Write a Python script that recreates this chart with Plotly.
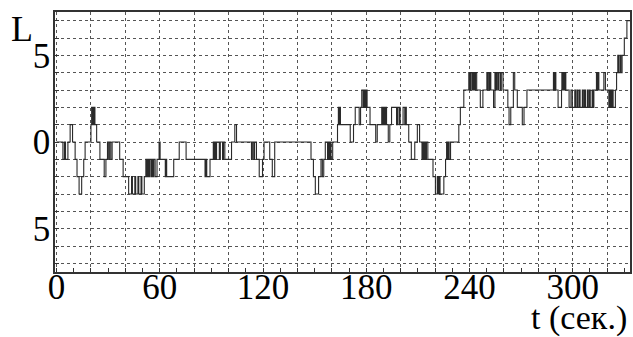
import plotly.graph_objects as go

# change points of the step series: time (s) and level L
change_t = [0, 3.7, 4.6, 5.2, 6.6, 7.9, 9.3, 10.8, 11.9, 13.1, 14.6, 15.8, 16.6,
            20.0, 20.4, 20.8, 21.2, 21.6, 22.0, 22.3, 23.3, 25.2, 27.7, 28.7, 29.6,
            30.3, 30.7, 31.5, 32.3, 36.7, 38.7, 41.9, 43.6, 44.1, 45.5, 46.0, 47.3,
            47.8, 49.1, 49.6, 51.0, 51.9, 52.4, 53.0,
            53.6, 54.2, 55.0, 55.5, 56.0, 56.5, 57.3, 58.4, 59.6, 60.2, 63.2, 63.6,
            64.0, 68.1, 71.3, 75.3, 86.3, 86.8, 87.3, 89.2, 91.1, 91.6, 92.0, 92.5,
            93.0, 94.6, 95.2, 96.5, 97.0, 97.8, 101.7, 103.6, 104.6,
            113.3, 113.8, 114.6, 115.1, 116.2, 117.8, 119.7, 120.6, 123.9, 125.4,
            126.8, 147.9, 149.3, 150.4, 152.3, 153.7, 154.5, 155.3, 156.2, 157.5,
            158.0, 158.5, 159.0, 159.5, 160.5, 163.3, 163.8, 164.3, 164.7, 165.0,
            170.7, 172.6, 173.6, 175.9, 176.7, 177.4, 178.2, 178.8, 179.4, 180.0,
            180.5, 182.2, 185.5, 186.4, 189.0, 189.5, 190.1, 190.6, 191.2, 191.8,
            192.8, 193.7, 194.7, 197.6, 198.2, 199.1, 199.5, 199.7, 201.4, 202.4,
            202.9, 203.3, 204.7, 206.2, 208.2, 209.7, 211.0, 212.4, 213.0, 213.5,
            214.1, 214.7, 215.0, 215.8, 218.8, 220.2,
            221.3, 221.8, 222.4, 222.9, 225.1, 226.1, 226.7, 227.2, 227.7, 228.2,
            229.0, 233.8, 234.7, 236.7, 239.6, 240.0, 240.3, 240.7, 241.0, 241.8,
            242.1, 242.5, 242.8, 243.2, 243.5, 244.2, 246.3, 247.8, 250.1, 250.5,
            250.8, 251.5, 251.8, 252.4, 254.0, 254.8, 255.4, 255.9, 256.6, 257.1,
            258.0, 258.5, 259.5, 262.3, 263.0, 264.0, 265.5, 266.3, 267.8, 270.7,
            271.7, 273.4,
            288.8, 289.3, 289.7, 290.2, 291.5, 293.5, 293.7, 294.3, 294.7, 295.3,
            295.7, 296.0, 297.9, 299.0, 299.8, 301.2, 301.7, 302.5, 303.0, 303.8,
            304.3, 305.6, 306.1, 306.8, 307.4, 308.5, 309.0, 309.7, 310.2, 311.3,
            311.8, 312.3, 313.8, 314.4, 314.8, 315.2, 318.1, 319.0, 321.0, 321.5,
            322.0, 322.4, 322.8, 323.2, 323.5, 324.8, 325.5, 326.2, 326.7, 327.5,
            328.0, 328.7, 330.0, 331.5, 333.3]
change_L = [0, -1, 0, -1, 0, 1, 0, -1, -2, -3, -2, -1, 0,
            1, 2, 1, 2, 1, 2, 1, 0, -1, -2, -1, 0,
            -1, 0, -1, 0, -1, -2, -3, -2, -3, -2, -3, -2,
            -3, -2, -3, -2, -1, -2, -1,
            -2, -1, -2, -1, -2, -1, -2, -1, 0, -1, -2, -1,
            -2, -1, 0, -1, -2, -1, -2, -1, 0, -1, 0, -1,
            0, -1, 0, -1, 0, -1, 0, 1, 0,
            -1, 0, -1, 0, -1, -2, -1, 0, -1, -2,
            0, -1, -2, -3, -2, -1, -2, -1, 0, -1,
            0, -1, 0, -1, 0, 1, 2, 1, 2, 1,
            0, 1, 2, 1, 2, 3, 2, 3, 2, 3,
            2, 1, 0, 1, 2, 1, 2, 1, 2, 1,
            0, 1, 2, 1, 2, 1, 2, 1, 2, 1,
            2, 1, 0, -1, 0, 1, 0, -1, 0, -1,
            0, -1, 0, -1, -2, -3,
            -2, -3, -2, -3, -2, -1, 0, -1, 0, -1,
            0, 1, 2, 3, 4, 3, 4, 3, 4, 3,
            4, 3, 4, 3, 4, 3, 2, 3, 4, 3,
            4, 3, 4, 3, 2, 4, 3, 4, 3, 4,
            3, 4, 3, 2, 1, 2, 4, 3, 2, 1,
            2, 3,
            4, 3, 4, 3, 2, 3, 4, 3, 4, 3,
            4, 3, 2, 3, 2, 3, 2, 3, 2, 3,
            2, 3, 2, 3, 2, 3, 2, 3, 2, 3,
            2, 3, 4, 3, 4, 3, 4, 3, 2, 3,
            2, 3, 2, 3, 2, 3, 4, 5, 4, 5,
            4, 5, 6, 7, 7]

x_ticks = list(range(0, 321, 20))
x_labels = [str(v) if v % 60 == 0 else "" for v in x_ticks]
y_ticks = list(range(-7, 8))
y_label_map = {5: "5", 0: "0", -5: "5"}
y_labels = [y_label_map.get(v, "") for v in y_ticks]

SERIF = "Liberation Serif"

fig = go.Figure()
fig.add_trace(go.Scatter(x=change_t, y=change_L, mode="lines",
                         line=dict(color="#2a2a2a", width=1.1, shape="hv"),
                         showlegend=False, hoverinfo="skip"))

axis_common = dict(showgrid=True, gridcolor="#555555", griddash="dot", gridwidth=1,
                   showline=True, linecolor="#333333", linewidth=1.5, mirror=True,
                   ticks="inside", ticklen=4, tickcolor="#333333",
                   tickfont=dict(family=SERIF, size=35, color="black"),
                   zeroline=False)

fig.update_xaxes(range=[-0.9, 333.3], tickmode="array", tickvals=x_ticks, ticktext=x_labels,
                 minor=dict(dtick=10, ticks="inside", ticklen=4, tickcolor="#333333", showgrid=False),
                 ticklabelstandoff=-17, **axis_common)
fig.update_yaxes(range=[-7.5, 7.5], tickmode="array", tickvals=y_ticks, ticktext=y_labels,
                 ticklabelstandoff=-4, **axis_common)

fig.add_annotation(text="L", xref="paper", yref="paper", x=-0.058, y=0.935,
                   xanchor="center", yanchor="middle", showarrow=False,
                   font=dict(family=SERIF, size=36, color="black"))
fig.add_annotation(text="t (сек.)", xref="paper", yref="paper", x=0.9985, y=-0.178,
                   xanchor="right", yanchor="middle", showarrow=False,
                   font=dict(family=SERIF, size=34, color="black"))

fig.update_layout(width=633, height=337, margin=dict(l=55, r=1, t=12, b=65),
                  plot_bgcolor="white", paper_bgcolor="white")

fig.write_html("out.html")
